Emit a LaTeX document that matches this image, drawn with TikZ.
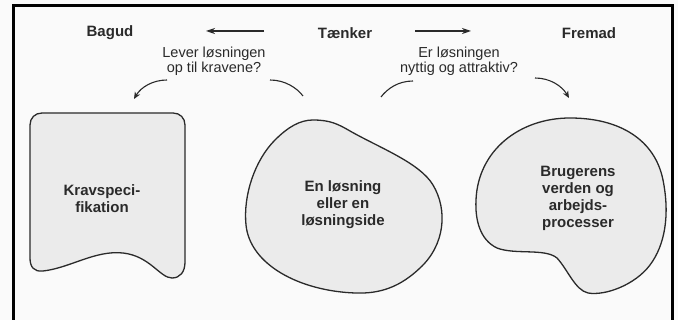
\documentclass[tikz,border=0pt]{standalone}
\usepackage{fontspec}
\setmainfont{Liberation Sans}
\usetikzlibrary{arrows.meta}
\definecolor{ink}{HTML}{2A2A2A}
\definecolor{blobfill}{HTML}{EBEBEB}
\definecolor{paper}{HTML}{FAFAFA}
\tikzset{
  blob/.style={draw=ink, fill=blobfill, line width=1.3pt, line join=round},
  head/.style={font=\fontsize{15}{16}\selectfont\bfseries, text=ink},
  question/.style={font=\fontsize{14.5}{15}\selectfont, text=ink, align=center},
  inside/.style={font=\fontsize{15}{17}\selectfont\bfseries, text=ink, align=center},
  flow/.style={draw=ink, line width=1.1pt, -{Stealth[length=9pt,width=6pt]}},
  curvline/.style={draw=ink, line width=1.1pt},
  curvarrow/.style={draw=ink, line width=1.1pt, -{Stealth[length=7pt,width=6pt]}}
}
\begin{document}
\begin{tikzpicture}[x=1pt,y=-1pt]
\useasboundingbox (0,0) rectangle (678,320);
\fill[paper] (0,0) rectangle (678,320);
% frame
\draw[black, line width=3pt] (13,322) -- (13,6) -- (672,6) -- (672,322);

% top labels
\node[head] (bagud) at (110,33) {Bagud};
\node[head] (taenker) at (345,33) {Tænker};
\node[head] (fremad) at (589,33) {Fremad};
\coordinate (la1) at (264,31);
\coordinate (la2) at (206,31);
\coordinate (ra1) at (415,31);
\coordinate (ra2) at (471,31);
\draw[flow] (la1) -- (la2);
\draw[flow] (ra1) -- (ra2);

% questions
\node[question] (q1) at (214,61) {Lever løsningen\\op til kravene?};
\node[question] (q2) at (459,61) {Er løsningen\\nyttig og attraktiv?};

% curved arrows
\coordinate (c1s) at (167,80); \coordinate (c1e) at (134,99);
\coordinate (c2s) at (270,80); \coordinate (c2e) at (303,96);
\coordinate (c3s) at (413,81); \coordinate (c3e) at (381,97);
\coordinate (c4s) at (535,78); \coordinate (c4e) at (569,98);
\draw[curvarrow] (c1s) .. controls (153,80) and (141,87) .. (c1e);
\draw[curvline] (c2s) .. controls (285,80) and (297,88) .. (c2e);
\draw[curvline] (c3s) .. controls (398,81) and (387,89) .. (c3e);
\draw[curvarrow] (c4s) .. controls (550,78) and (562,86) .. (c4e);

% Kravspecifikation shape
\draw[blob] (30,125) -- (30,258)
  .. controls (30,267) and (34,272) .. (43,271)
  .. controls (70,268) and (95,250) .. (123,253)
  .. controls (150,256) and (160,278) .. (172,278)
  .. controls (180,278) and (185,272) .. (185,262)
  -- (185,125)
  .. controls (185,118) and (180,113) .. (173,113)
  -- (42,113)
  .. controls (35,113) and (30,118) .. (30,125) -- cycle;
\node[inside] (krav) at (102,199) {Kravspeci-\\fikation};

% middle blob
\draw[blob] (313,120)
  .. controls (330,120) and (338,124) .. (350,131)
  .. controls (380,148) and (420,163) .. (433,185)
  .. controls (448,210) and (445,245) .. (420,268)
  .. controls (400,287) and (380,294) .. (355,293)
  .. controls (300,291) and (250,265) .. (246,225)
  .. controls (243,195) and (255,160) .. (275,140)
  .. controls (288,127) and (300,120) .. (313,120) -- cycle;
\node[inside] (loesning) at (343,205) {En løsning\\eller en\\løsningside};

% right blob
\draw[blob] (570,118)
  .. controls (620,118) and (655,140) .. (663,180)
  .. controls (670,215) and (665,245) .. (650,265)
  .. controls (635,285) and (605,296) .. (588,293)
  .. controls (575,290) and (568,270) .. (557,258)
  .. controls (545,248) and (515,255) .. (497,248)
  .. controls (480,240) and (475,220) .. (476,200)
  .. controls (478,150) and (520,118) .. (570,118) -- cycle;
\node[inside] (bruger) at (578,198) {Brugerens\\verden og\\arbejds-\\processer};
\end{tikzpicture}
\end{document}
